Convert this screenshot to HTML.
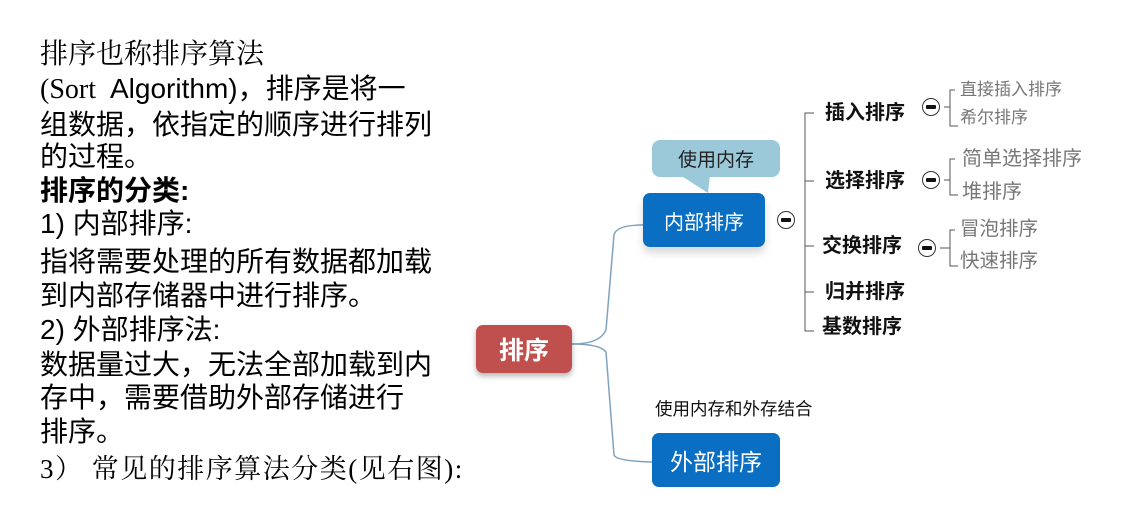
<!DOCTYPE html>
<html><head><meta charset="utf-8"><style>
body{margin:0;width:1122px;height:526px;background:#fff;position:relative;overflow:hidden;font-family:"Liberation Sans","Noto Sans CJK SC",sans-serif;}
.t{position:absolute;left:40px;font-size:28px;line-height:34px;white-space:nowrap;color:#000;}
.s{font-family:"Liberation Serif","Noto Serif CJK SC",serif;}
.a{position:absolute;white-space:nowrap;line-height:1;}
.b{font-weight:bold;font-size:20px;color:#111;}
.g{font-size:17px;color:#777;}
.box{position:absolute;border-radius:7px;color:#fff;display:flex;align-items:center;justify-content:center;}
.m{position:absolute;width:18px;height:18px;border:1.5px solid #333;border-radius:50%;background:#fff;box-sizing:border-box;}
.m:after{content:"";position:absolute;left:3px;right:3px;top:6px;height:4px;background:#111;border-radius:1px;}
</style></head><body>
<div class="t s" style="top:38px">排序也称排序算法</div>
<div class="t" style="top:72px"><span class="s">(Sort&nbsp; </span>Algorithm)，排序是将一</div>
<div class="t" style="top:108px">组数据，依指定的顺序进行排列</div>
<div class="t" style="top:140px">的过程。</div>
<div class="t" style="top:174px;font-weight:bold">排序的分类:</div>
<div class="t" style="top:207px">1) 内部排序:</div>
<div class="t" style="top:245px">指将需要处理的所有数据都加载</div>
<div class="t" style="top:279px">到内部存储器中进行排序。</div>
<div class="t" style="top:313px">2) 外部排序法:</div>
<div class="t" style="top:348px">数据量过大，无法全部加载到内</div>
<div class="t" style="top:381px">存中，需要借助外部存储进行</div>
<div class="t" style="top:415px">排序。</div>
<div class="t s" style="top:452px;font-size:27px;letter-spacing:1.5px">3） 常见的排序算法分类(见右图):</div>

<svg style="position:absolute;left:0;top:0" width="1122" height="526">
<g fill="none" stroke="#7fa3bf" stroke-width="1.5">
<path d="M572,344 Q600,344 606,330 L614,235 Q616,224 650,225"/>
<path d="M572,344 Q600,344 606,352 L614,455 Q616,461 652,462"/>
</g>
<g fill="none" stroke="#555" stroke-width="1">
<path d="M814,113 H805 V331 H814 M805,181 H814 M805,246 H814 M805,292 H814"/>
<path d="M955,90 H950 V126 H958 M944,107 H950"/>
<path d="M955,159 H950 V195 H958 M944,180 H950"/>
<path d="M955,230 H950 V266 H958 M940,248 H950"/>
</g>
<path d="M680,175 L710,175 L708,193 Z" fill="#9cc9d9"/>
</svg>
<div class="box" style="left:476px;top:325px;width:96px;height:48px;background:#c0504d;font-size:25px;font-weight:bold;box-shadow:0 3px 6px rgba(0,0,0,.3)">排序</div>
<div class="box" style="left:652px;top:140px;width:128px;height:37px;background:#9cc9d9;color:#222;font-size:19px;border-radius:8px">使用内存</div>
<div class="box" style="left:643px;top:193px;width:122px;height:54px;background:#0a6fc2;font-size:20px;box-shadow:0 6px 8px rgba(0,0,0,.15)">内部排序</div>
<div class="box" style="left:652px;top:433px;width:128px;height:54px;background:#0a6fc2;font-size:23px">外部排序</div>
<div class="a" style="left:655px;top:401px;font-size:17.5px;color:#111">使用内存和外存结合</div>
<div class="m" style="left:777px;top:211px"></div>
<div class="m" style="left:922px;top:98px"></div>
<div class="m" style="left:922px;top:171px"></div>
<div class="m" style="left:918px;top:239px"></div>
<div class="a b" style="left:825px;top:103px">插入排序</div>
<div class="a b" style="left:825px;top:171px">选择排序</div>
<div class="a b" style="left:822px;top:236px">交换排序</div>
<div class="a b" style="left:825px;top:282px">归并排序</div>
<div class="a b" style="left:822px;top:317px">基数排序</div>
<div class="a g" style="left:960px;top:81px">直接插入排序</div>
<div class="a g" style="left:960px;top:109px">希尔排序</div>
<div class="a g" style="left:962px;top:149px;font-size:20px">简单选择排序</div>
<div class="a g" style="left:962px;top:182px;font-size:20px">堆排序</div>
<div class="a g" style="left:960px;top:220px;font-size:19.5px">冒泡排序</div>
<div class="a g" style="left:960px;top:252px;font-size:19.5px">快速排序</div>
</body></html>
